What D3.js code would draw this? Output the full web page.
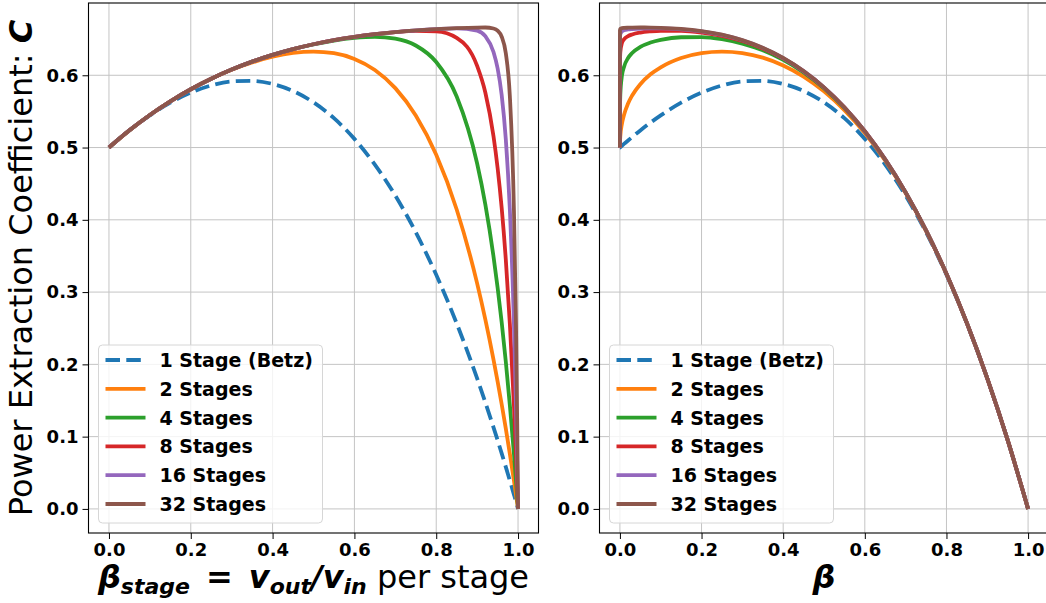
<!DOCTYPE html>
<html><head><meta charset="utf-8">
<script src="https://cdn.jsdelivr.net/npm/d3@7"></script>
<style>html,body{margin:0;padding:0;background:#fff;} svg{display:block;font-family:"DejaVu Sans",sans-serif;}</style>
</head><body>
<svg id="chart" width="1046" height="603"></svg>
<script>
// ---------- data ----------
const seriesNames = ["1 Stage (Betz)","2 Stages","4 Stages","8 Stages","16 Stages","32 Stages"];
const seriesColors = ["#1f77b4","#ff7f0e","#2ca02c","#d62728","#9467bd","#8c564b"];

// left panel: beta per stage
const betaStage = [0,0.05,0.1,0.15,0.2,0.25,0.3,0.35,0.4,0.45,0.5,0.55,0.6,0.65,0.7,0.75,0.8,0.85,0.9,0.92,0.94,0.95,0.96,0.97,0.98,0.99,0.995,0.998,1];
const stageC1  = [0.5,0.5237,0.5445,0.5621,0.576,0.5859,0.5915,0.5923,0.588,0.5782,0.5625,0.5406,0.512,0.4764,0.4335,0.3828,0.324,0.2567,0.1805,0.1475,0.1129,0.0951,0.0768,0.0582,0.0392,0.0198,0.0100,0.0040,0];
const stageC2  = [0.5,0.5237,0.5451,0.5640,0.5806,0.5951,0.6075,0.6177,0.6256,0.6309,0.6328,0.6305,0.6226,0.6073,0.5822,0.5443,0.4899,0.4143,0.3121,0.2623,0.2067,0.1766,0.1448,0.1114,0.0761,0.0390,0.0198,0.0080,0];
const stageC4  = [0.5,0.5238,0.5451,0.5640,0.5807,0.5952,0.6079,0.6189,0.6282,0.6361,0.6427,0.6480,0.6516,0.6531,0.6507,0.6412,0.6183,0.5706,0.4779,0.4213,0.3493,0.3064,0.2582,0.2041,0.1435,0.0757,0.0389,0.0158,0];
const stageC8  = [0.5,0.5238,0.5451,0.5640,0.5807,0.5952,0.6079,0.6189,0.6282,0.6362,0.6429,0.6485,0.6531,0.6568,0.6597,0.6615,0.6608,0.6518,0.6129,0.5762,0.5155,0.4719,0.4163,0.3457,0.2561,0.1429,0.0756,0.0313,0];
const stageC16 = [0.5,0.5238,0.5451,0.5640,0.5807,0.5952,0.6079,0.6189,0.6282,0.6362,0.6429,0.6485,0.6531,0.6568,0.6598,0.6622,0.6639,0.6649,0.6618,0.6541,0.6323,0.6097,0.5726,0.5121,0.4139,0.2551,0.1426,0.0611,0];
const stageC32 = [0.5,0.5238,0.5451,0.5640,0.5807,0.5952,0.6079,0.6189,0.6282,0.6362,0.6429,0.6485,0.6531,0.6568,0.6598,0.6622,0.6639,0.6652,0.6660,0.6661,0.6647,0.6617,0.6533,0.6308,0.5708,0.4126,0.2546,0.1166,0];

// right panel: overall beta
const betaOverall = [0,0.0001,0.001,0.005,0.01,0.02,0.03,0.05,0.075,0.1,0.15,0.2,0.25,0.3,0.35,0.4,0.45,0.5,0.55,0.6,0.65,0.7,0.75,0.8,0.85,0.9,0.95,1];
const totalC1  = [0.5,0.5000,0.5005,0.5025,0.5050,0.5098,0.5145,0.5237,0.5345,0.5445,0.5621,0.576,0.5859,0.5915,0.5923,0.588,0.5782,0.5625,0.5406,0.512,0.4764,0.4335,0.3828,0.324,0.2567,0.1805,0.0951,0];
const totalC2  = [0.5,0.5050,0.5153,0.5329,0.5450,0.5609,0.5720,0.5877,0.6013,0.6110,0.6239,0.6307,0.6328,0.6307,0.6244,0.6136,0.5982,0.5777,0.5517,0.5199,0.4817,0.4369,0.3848,0.3250,0.2571,0.1806,0.0951,0];
const totalC4  = [0.5,0.5451,0.5735,0.5995,0.6116,0.6239,0.6309,0.6393,0.6453,0.6490,0.6526,0.6528,0.6499,0.6439,0.6345,0.6213,0.6039,0.5819,0.5547,0.5220,0.4831,0.4377,0.3853,0.3253,0.2572,0.1807,0.0951,0];
const totalC8  = [0.5,0.6116,0.6318,0.6447,0.6497,0.6541,0.6565,0.6591,0.6607,0.6615,0.6614,0.6591,0.6546,0.6475,0.6372,0.6233,0.6054,0.5830,0.5555,0.5225,0.4835,0.4379,0.3854,0.3253,0.2572,0.1807,0.0951,0];
const totalC16 = [0.5,0.6497,0.6568,0.6607,0.6622,0.6634,0.6640,0.6647,0.6649,0.6649,0.6636,0.6608,0.6558,0.6484,0.6379,0.6238,0.6058,0.5833,0.5557,0.5226,0.4836,0.4380,0.3854,0.3253,0.2572,0.1807,0.0951,0];
const totalC32 = [0.5,0.6622,0.6641,0.6652,0.6655,0.6658,0.6660,0.6661,0.6660,0.6657,0.6642,0.6612,0.6562,0.6486,0.6380,0.6240,0.6059,0.5833,0.5557,0.5227,0.4836,0.4380,0.3854,0.3253,0.2572,0.1807,0.0951,0];

const xTicks = [0,0.2,0.4,0.6,0.8,1.0];
const yTicks = [0,0.1,0.2,0.3,0.4,0.5,0.6];

// ---------- drawing ----------
const svg = d3.select("#chart");
const yDomain = [-0.03333, 0.7];
const xDomain = [-0.05, 1.05];
const plotTop = 3, plotBottom = 533;
const lineW = 3.8, dashPat = "14.5,6.3";

const panels = [
  {x0: 88.5, x1: 538.5, xs: betaStage, ys: [stageC1,stageC2,stageC4,stageC8,stageC16,stageC32], id:"L"},
  {x0: 599.5, x1: 1048.5, xs: betaOverall, ys: [totalC1,totalC2,totalC4,totalC8,totalC16,totalC32], id:"R"}
];

panels.forEach(p => {
  const x = d3.scaleLinear().domain(xDomain).range([p.x0, p.x1]);
  const y = d3.scaleLinear().domain(yDomain).range([plotBottom, plotTop]);
  const g = svg.append("g");

  g.append("clipPath").attr("id","clip"+p.id).append("rect")
    .attr("x",p.x0).attr("y",plotTop).attr("width",p.x1-p.x0).attr("height",plotBottom-plotTop);

  // grid
  g.append("g").selectAll("line").data(xTicks).join("line")
    .attr("x1",d=>x(d)).attr("x2",d=>x(d)).attr("y1",plotTop).attr("y2",plotBottom)
    .attr("stroke","#c4c4c4").attr("stroke-width",1);
  g.append("g").selectAll("line").data(yTicks).join("line")
    .attr("x1",p.x0).attr("x2",p.x1).attr("y1",d=>y(d)).attr("y2",d=>y(d))
    .attr("stroke","#c4c4c4").attr("stroke-width",1);

  // lines
  const line = d3.line().x(d=>x(d[0])).y(d=>y(d[1])).curve(d3.curveMonotoneX);
  const lg = g.append("g").attr("clip-path","url(#clip"+p.id+")");
  p.ys.forEach((vals,i) => {
    const pts = p.xs.map((xv,j)=>[xv, vals[j]]);
    lg.append("path").datum(pts).attr("d",line)
      .attr("fill","none").attr("stroke",seriesColors[i]).attr("stroke-width",lineW)
      .attr("stroke-linejoin","round")
      .attr("stroke-dasharray", i===0 ? dashPat : null);
  });

  // axes
  const xAxis = d3.axisBottom(x).tickValues(xTicks).tickFormat(d3.format(".1f")).tickSize(6).tickPadding(4);
  const yAxis = d3.axisLeft(y).tickValues(yTicks).tickFormat(d3.format(".1f")).tickSize(6).tickPadding(4);
  const xa = g.append("g").attr("transform",`translate(0,${plotBottom})`).call(xAxis);
  const ya = g.append("g").attr("transform",`translate(${p.x0},0)`).call(yAxis);
  [xa,ya].forEach(a=>{
    a.select(".domain").remove();
    a.selectAll(".tick line").attr("stroke","#000").attr("stroke-width",1);
    a.selectAll(".tick text").attr("font-family","DejaVu Sans").attr("font-weight","bold")
      .attr("font-size",18).attr("fill","#000");
  });

  // spines
  g.append("rect").attr("x",p.x0).attr("y",plotTop).attr("width",p.x1-p.x0).attr("height",plotBottom-plotTop)
    .attr("fill","none").attr("stroke","#000").attr("stroke-width",1.1);

  // legend
  const lx = p.x0 + 10, ly = 345, lw = 224, lh = 178;
  const leg = g.append("g");
  leg.append("rect").attr("x",lx).attr("y",ly).attr("width",lw).attr("height",lh)
    .attr("rx",4).attr("fill","#fff").attr("fill-opacity",0.8)
    .attr("stroke","#d6d6d6").attr("stroke-width",1);
  seriesNames.forEach((name,i)=>{
    const cy = ly + 15 + i*28.8;
    leg.append("line").attr("x1",lx+7).attr("x2",lx+47).attr("y1",cy).attr("y2",cy)
      .attr("stroke",seriesColors[i]).attr("stroke-width",lineW)
      .attr("stroke-dasharray", i===0 ? dashPat : null);
    leg.append("text").attr("x",lx+61).attr("y",cy+7).text(name)
      .attr("font-weight","bold").attr("font-size",19).attr("fill","#000");
  });
});

// y label
const yl = svg.append("text").attr("transform","translate(32,268) rotate(-90)")
  .attr("text-anchor","middle").attr("font-size",32).attr("fill","#000");
yl.append("tspan").text("Power Extraction Coefficient: ");
yl.append("tspan").text("C").attr("font-weight","bold").attr("font-style","italic");

// x label left
const xl = svg.append("text").attr("x",313.5).attr("y",588).attr("text-anchor","middle")
  .attr("font-size",32).attr("fill","#000");
xl.append("tspan").text("β").attr("font-weight","bold").attr("font-style","italic");
xl.append("tspan").text("stage").attr("font-weight","bold").attr("font-style","italic").attr("font-size",22).attr("dy",6);
xl.append("tspan").text("\u2002=\u2002").attr("font-weight","bold").attr("dy",-6);
xl.append("tspan").text("v").attr("font-weight","bold").attr("font-style","italic");
xl.append("tspan").text("out").attr("font-weight","bold").attr("font-style","italic").attr("font-size",22).attr("dy",6);
xl.append("tspan").text("/").attr("font-weight","bold").attr("font-style","italic").attr("dy",-6);
xl.append("tspan").text("v").attr("font-weight","bold").attr("font-style","italic");
xl.append("tspan").text("in").attr("font-weight","bold").attr("font-style","italic").attr("font-size",22).attr("dy",6);
xl.append("tspan").text(" per stage").attr("dy",-6);

// x label right
svg.append("text").attr("x",824).attr("y",588).attr("text-anchor","middle")
  .attr("font-size",32).attr("font-weight","bold").attr("font-style","italic").attr("fill","#000").text("β");
</script>
</body></html>
